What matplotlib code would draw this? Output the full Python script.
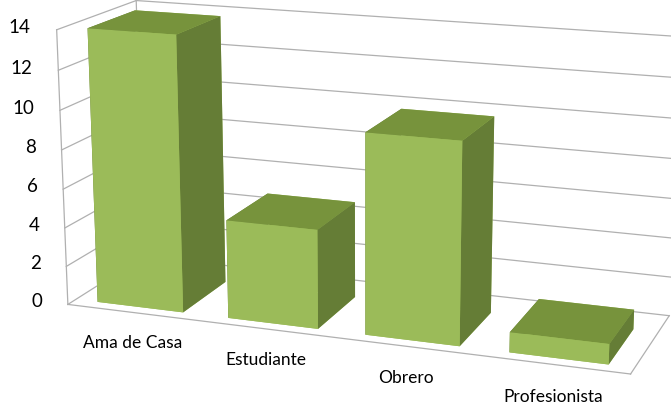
import matplotlib
matplotlib.use("Agg")
import matplotlib.pyplot as plt
import numpy as np

categories = ["Ama de Casa", "Estudiante", "Obrero", "Profesionista"]
values = [14, 5, 10, 1]
z_ticks = [0, 2, 4, 6, 8, 10, 12, 14]

plt.rcParams['font.family'] = ['Lato', 'DejaVu Sans']

fig = plt.figure(figsize=(6.71, 4.09), dpi=100)
ax = fig.add_axes([0.032, -0.268, 1, 1.64], projection='3d')
ax.set_proj_type('persp', focal_length=0.55)
ax.view_init(elev=15, azim=-70)
ax.set_box_aspect((4, 1.2, 1.95), zoom=0.98)

n = len(categories)
ax.set_xlim(0, n)
ax.set_ylim(0, 1)
ax.set_zlim(0, 14)

for a in (ax.xaxis, ax.yaxis, ax.zaxis):
    a.pane.set_facecolor((1, 1, 1, 0))
    a.pane.set_edgecolor((1, 1, 1, 0))
    a.line.set_color((1, 1, 1, 0))
    a.set_ticks([])
    a.label.set_visible(False)
    a.offsetText.set_visible(False)
ax.grid(False)

gc = '#B0B0B0'
lw = 0.9
for z in z_ticks:
    ax.plot([0, n], [1, 1], [z, z], color=gc, lw=lw)
    ax.plot([0, 0], [0, 1], [z, z], color=gc, lw=lw)
ax.plot([0, 0], [0, 0], [0, 14], color=gc, lw=lw)
ax.plot([0, 0], [1, 1], [0, 14], color=gc, lw=lw)
ax.plot([0, n], [0, 0], [0, 0], color=gc, lw=lw)
ax.plot([n, n], [0, 1], [0, 0], color=gc, lw=lw)

front = '#9BBB59'
top = '#77933C'
side = '#657D36'
face_cols = []
for _ in values:
    face_cols += [front, top, front, front, side, side]

bw = 0.66
xs = np.arange(n) + 0.5 - bw / 2
ax.bar3d(xs, np.full(n, 0.1), np.zeros(n), bw, 0.6, values,
         color=face_cols, shade=False, zsort='max')

for z in z_ticks:
    ax.text(-0.2, 0, z, str(z), ha='right', va='center', fontsize=13.5)
for i, c in enumerate(categories):
    ax.text(i + 0.5, 0, -1.2, c, ha='center', va='top', fontsize=12.5)

fig.savefig('out.png', dpi=100)
